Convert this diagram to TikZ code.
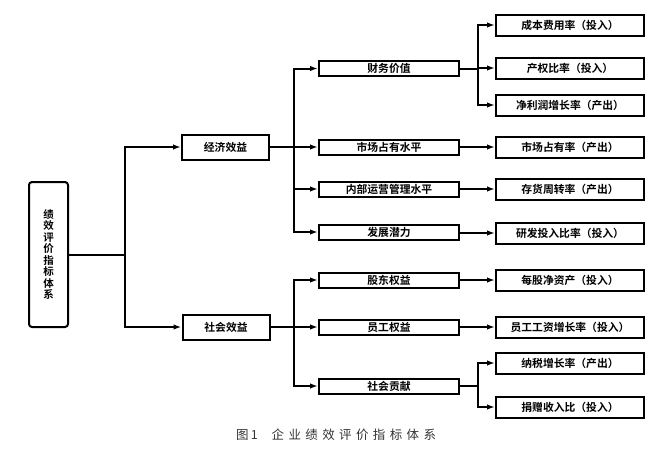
\documentclass[tikz,border=0pt]{standalone}
\usepackage{fontspec}
\setmainfont{Noto Sans CJK SC}[BoldFont={Noto Sans CJK SC Bold}]
\newfontfamily\capfont[LetterSpace=35]{Noto Sans CJK SC}
\usetikzlibrary{arrows.meta}
\begin{document}
\begin{tikzpicture}[x=1pt,y=-1pt,
  every node/.style={font=\bfseries\fontsize{10.8}{12}\selectfont},
  rootbox/.style={draw,line width=2pt,rounded corners=3pt,minimum width=39pt,minimum height=145pt,inner sep=0pt},
  lonebox/.style={draw,line width=2pt,minimum width=87pt,minimum height=25pt,inner sep=0pt},
  ltwobox/.style={draw,line width=2pt,minimum width=140pt,minimum height=15pt,inner sep=0pt},
  lthreebox/.style={draw,line width=2pt,minimum width=148pt,minimum height=21pt,inner sep=0pt},
  conn/.style={line width=2pt},
  arr/.style={line width=2pt,-{Latex[length=8pt,width=5.5pt]}}]
\useasboundingbox (0,0) rectangle (667,448);
% root
\node[rootbox,align=center,font=\bfseries\fontsize{10.5}{11.5}\selectfont] (root) at (48.5,254.5) {绩\\效\\评\\价\\指\\标\\体\\系};
% level 1
\node[lonebox] (e1) at (225.5,147) {经济效益};
\node[lonebox] (s1) at (226,327) {社会效益};
% level 2
\node[ltwobox] (a2) at (389,68.5) {财务价值};
\node[ltwobox] (b2) at (389,147) {市场占有水平};
\node[ltwobox] (c2) at (389,189) {内部运营管理水平};
\node[ltwobox] (d2) at (389,232) {发展潜力};
\node[ltwobox] (f2) at (389,280) {股东权益};
\node[ltwobox] (g2) at (389,327) {员工权益};
\node[ltwobox] (h2) at (389,386) {社会贡献};
% level 3
\node[lthreebox] (a3) at (570,25) {成本费用率（投入）};
\node[lthreebox] (b3) at (570,68) {产权比率（投入）};
\node[lthreebox] (c3) at (570,105) {净利润增长率（产出）};
\node[lthreebox] (d3) at (570,147) {市场占有率（产出）};
\node[lthreebox] (e3) at (570,189) {存货周转率（产出）};
\node[lthreebox] (f3) at (570,233) {研发投入比率（投入）};
\node[lthreebox] (g3) at (570,280) {每股净资产（投入）};
\node[lthreebox] (h3) at (570,327) {员工工资增长率（投入）};
\node[lthreebox] (i3) at (570,363) {纳税增长率（产出）};
\node[lthreebox] (j3) at (570,407) {捐赠收入比（投入）};
% root trunk
\coordinate (t0) at (125,254.5);
\draw[conn] (root.east) -- (t0);
\draw[arr] (t0) |- (e1.west);
\draw[arr] (t0) |- (s1.west);
% economic branch
\coordinate (t1) at (294,147);
\draw[conn] (e1.east) -- (t1);
\draw[arr] (t1) |- (a2.west);
\draw[arr] (t1) -- (b2.west);
\draw[arr] (t1) |- (c2.west);
\draw[arr] (t1) |- (d2.west);
% social branch
\coordinate (t2) at (294,327);
\draw[conn] (s1.east) -- (t2);
\draw[arr] (t2) |- (f2.west);
\draw[arr] (t2) -- (g2.west);
\draw[arr] (t2) |- (h2.west);
% level 2 to 3
\coordinate (t3) at (478,68.5);
\draw[conn] (a2.east) -- (t3);
\draw[arr] (t3) |- (a3.west);
\draw[arr] (t3) |- (b3.west);
\draw[arr] (t3) |- (c3.west);
\draw[arr] (b2.east) -- (d3.west);
\draw[arr] (c2.east) -- (e3.west);
\draw[arr] (d2.east) |- (f3.west);
\draw[arr] (f2.east) -- (g3.west);
\draw[arr] (g2.east) -- (h3.west);
\coordinate (t4) at (478,386);
\draw[conn] (h2.east) -- (t4);
\draw[arr] (t4) |- (i3.west);
\draw[arr] (t4) |- (j3.west);
% caption
\node[font=\capfont\fontsize{12.5}{14}\selectfont,text=black!80,anchor=west,inner sep=0pt] (cap) at (236,435) {图\,1\hspace{14pt}企业绩效评价指标体系};
\end{tikzpicture}
\end{document}
